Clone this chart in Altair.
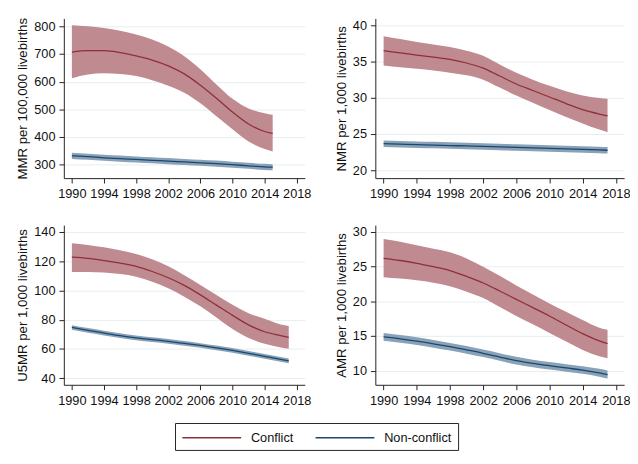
import altair as alt
import pandas as pd

SERIES = ["Conflict", "Non-conflict"]
LINE_COLORS = ["#8f2f3a", "#1a476f"]
BAND_COLORS = ["#c08a91", "#8aa2b7"]

YEARS_X = [1990, 1994, 1998, 2002, 2006, 2010, 2014, 2018]

# ---- MMR ----
mmr_years = [1990, 1992, 1994, 1996, 1998, 2000, 2002, 2004, 2006, 2008, 2010, 2012, 2014, 2015]
mmr_c_mean = [707, 712, 712, 705, 693, 678, 657, 628, 587, 540, 490, 447, 420, 413]
mmr_c_hi = [804, 800, 794, 784, 770, 752, 727, 692, 645, 590, 538, 503, 486, 480]
mmr_c_lo = [612, 626, 630, 628, 620, 605, 585, 560, 522, 475, 428, 384, 357, 348]
mmr_n_mean = [332, 329, 325, 322, 319, 316, 313, 310, 307, 304, 300, 296, 292, 291]
mmr_n_hi = [343, 340, 336, 333, 330, 327, 324, 321, 318, 315, 311, 307, 303, 302]
mmr_n_lo = [321, 318, 314, 311, 308, 305, 302, 299, 296, 293, 289, 285, 281, 280]

# ---- NMR / U5MR / AMR ----
yrs = [1990, 1992, 1994, 1996, 1998, 2000, 2002, 2004, 2006, 2008, 2010, 2012, 2014, 2016, 2017]

nmr_c_mean = [36.5, 36.2, 35.9, 35.6, 35.3, 34.8, 34.1, 33.0, 31.9, 31.0, 30.1, 29.2, 28.35, 27.75, 27.5]
nmr_c_hi = [38.5, 38.1, 37.7, 37.35, 37.0, 36.5, 35.8, 34.6, 33.45, 32.5, 31.65, 30.9, 30.3, 29.95, 29.85]
nmr_c_lo = [34.45, 34.2, 34.0, 33.75, 33.45, 33.1, 32.5, 31.4, 30.3, 29.3, 28.3, 27.35, 26.45, 25.6, 25.25]
nmr_n_mean = [23.65, 23.58, 23.52, 23.46, 23.40, 23.34, 23.28, 23.21, 23.14, 23.07, 23.0, 22.93, 22.86, 22.79, 22.75]
nmr_n_hi = [24.1, 24.03, 23.97, 23.91, 23.85, 23.79, 23.73, 23.66, 23.59, 23.52, 23.45, 23.38, 23.31, 23.24, 23.2]
nmr_n_lo = [23.2, 23.13, 23.07, 23.01, 22.95, 22.89, 22.83, 22.76, 22.69, 22.62, 22.55, 22.48, 22.41, 22.34, 22.3]

u5_c_mean = [122.8, 122.0, 120.5, 118.7, 116.5, 113.0, 108.7, 103.5, 97.0, 90.0, 83.0, 76.5, 71.8, 69.2, 68.0]
u5_c_hi = [132.4, 131.2, 129.5, 127.5, 125.0, 121.3, 116.5, 110.5, 103.8, 97.0, 90.3, 84.5, 80.7, 76.8, 75.8]
u5_c_lo = [112.7, 112.6, 112.3, 111.2, 109.4, 106.0, 101.5, 95.8, 89.2, 81.5, 73.6, 67.5, 63.5, 61.0, 60.1]
u5_n_mean = [74.7, 72.75, 70.9, 69.1, 67.6, 66.4, 65.2, 63.8, 62.4, 60.8, 59.0, 57.05, 55.0, 52.95, 51.9]
u5_n_hi = [76.3, 74.35, 72.5, 70.7, 69.2, 68.0, 66.8, 65.4, 64.0, 62.4, 60.6, 58.65, 56.6, 54.55, 53.5]
u5_n_lo = [73.1, 71.15, 69.3, 67.5, 66.0, 64.8, 63.6, 62.2, 60.8, 59.2, 57.4, 55.45, 53.4, 51.35, 50.3]

amr_c_mean = [26.2, 25.9, 25.5, 25.0, 24.45, 23.6, 22.65, 21.5, 20.3, 19.1, 17.9, 16.6, 15.35, 14.3, 13.9]
amr_c_hi = [29.0, 28.6, 28.1, 27.6, 27.1, 26.2, 25.0, 23.7, 22.3, 21.0, 19.7, 18.5, 17.3, 16.2, 15.9]
amr_c_lo = [23.5, 23.3, 23.05, 22.7, 22.2, 21.4, 20.5, 19.2, 17.9, 16.7, 15.45, 14.2, 13.0, 12.1, 11.8]
amr_n_mean = [14.88, 14.6, 14.27, 13.88, 13.46, 13.0, 12.52, 11.98, 11.45, 11.05, 10.72, 10.4, 10.1, 9.7, 9.45]
amr_n_hi = [15.43, 15.15, 14.82, 14.43, 14.01, 13.55, 13.07, 12.53, 12.0, 11.6, 11.27, 10.95, 10.65, 10.27, 10.03]
amr_n_lo = [14.33, 14.05, 13.72, 13.33, 12.91, 12.45, 11.97, 11.43, 10.9, 10.5, 10.17, 9.85, 9.55, 9.13, 8.87]

AXFONT = "Liberation Sans Narrow, Liberation Sans, sans-serif"
FONT = "Liberation Sans, Arial, sans-serif"


def make_df(years, c_mean, c_lo, c_hi, n_mean, n_lo, n_hi):
    rows = []
    for y, m, lo, hi in zip(years, c_mean, c_lo, c_hi):
        rows.append({"series": SERIES[0], "year": y, "mean": m, "lo": lo, "hi": hi})
    for y, m, lo, hi in zip(years, n_mean, n_lo, n_hi):
        rows.append({"series": SERIES[1], "year": y, "mean": m, "lo": lo, "hi": hi})
    return pd.DataFrame(rows)


def panel(df, title, ydom, yticks, width):
    xs = alt.X("year:Q",
               scale=alt.Scale(domain=[1989.0, 2019.0], nice=False, zero=False),
               axis=alt.Axis(values=YEARS_X, format="d", title=None, grid=False,
                             labelFlush=False, labelOverlap=False, labelPadding=5))
    yaxis = alt.Axis(values=yticks, title=title, grid=True, labelFlush=False,
                     labelOverlap=False, labelPadding=4, titlePadding=4)
    yscale = alt.Scale(domain=ydom, nice=False, zero=False)
    band = alt.Chart(df).mark_area(interpolate="monotone").encode(
        x=xs,
        y=alt.Y("lo:Q", scale=yscale, axis=yaxis),
        y2="hi:Q",
        fill=alt.Fill("series:N", scale=alt.Scale(domain=SERIES, range=BAND_COLORS), legend=None),
    )
    line = alt.Chart(df).mark_line(interpolate="monotone", strokeWidth=1.3).encode(
        x=xs,
        y=alt.Y("mean:Q", scale=yscale, axis=yaxis),
        color=alt.Color("series:N", scale=alt.Scale(domain=SERIES, range=LINE_COLORS), legend=None),
    )
    return alt.layer(band, line).properties(width=width, height=163)


p1 = panel(make_df(mmr_years, mmr_c_mean, mmr_c_lo, mmr_c_hi, mmr_n_mean, mmr_n_lo, mmr_n_hi),
           "MMR per 100,000 livebirths", [251.5, 828.3], [300, 400, 500, 600, 700, 800], 246)
p2 = panel(make_df(yrs, nmr_c_mean, nmr_c_lo, nmr_c_hi, nmr_n_mean, nmr_n_lo, nmr_n_hi),
           "NMR per 1,000 livebirths", [18.9, 40.95], [20, 25, 30, 35, 40], 254)
p3 = panel(make_df(yrs, u5_c_mean, u5_c_lo, u5_c_hi, u5_n_mean, u5_n_lo, u5_n_hi),
           "U5MR per 1,000 livebirths", [35.5, 144.7], [40, 60, 80, 100, 120, 140], 246)
p4 = panel(make_df(yrs, amr_c_mean, amr_c_lo, amr_c_hi, amr_n_mean, amr_n_lo, amr_n_hi),
           "AMR per 1,000 livebirths", [7.97, 31.0], [10, 15, 20, 25, 30], 254)

# ---- legend (built by hand, Stata style box) ----
leg_df = pd.DataFrame({"series": SERIES})
box = alt.Chart(pd.DataFrame({"k": [0]})).mark_rect(
    fill="white", stroke="#222", strokeWidth=1
).encode(x=alt.value(114), x2=alt.value(403), y=alt.value(0.5), y2=alt.value(28))
leg_layers = [box]
key_x = [121, 257]
for i, name in enumerate(SERIES):
    sub = alt.Chart(leg_df).transform_filter(alt.datum.series == name)
    leg_layers.append(sub.mark_rule(strokeWidth=1.5, color=LINE_COLORS[i]).encode(
        x=alt.value(key_x[i]), x2=alt.value(key_x[i] + 60), y=alt.value(15)))
    leg_layers.append(sub.mark_text(align="left", baseline="middle", font=FONT,
                                    fontSize=13, color="#111").encode(
        x=alt.value(key_x[i] + 70), y=alt.value(15.5), text="series:N"))
legend = alt.layer(*leg_layers).properties(width=555, height=28)

grid = alt.vconcat(
    alt.hconcat(p1, p2, spacing=23),
    alt.hconcat(p3, p4, spacing=23),
    spacing=25,
)

chart = alt.vconcat(grid, legend, spacing=16).properties(
    padding={"left": 8, "top": 4, "right": 0, "bottom": 0}
).configure_view(stroke=None).configure_axis(
    domainColor="#222", domainWidth=1, tickColor="#222", tickSize=5, tickWidth=1,
    labelFont=AXFONT, labelFontSize=13, labelColor="#111",
    titleFont=AXFONT, titleFontSize=13.5, titleFontWeight="normal", titleColor="#111",
    gridColor="#e6eef0", gridWidth=1,
).configure_axisY(labelAngle=0)

chart.save("out.html", embed_options={"renderer": "svg", "actions": False})
